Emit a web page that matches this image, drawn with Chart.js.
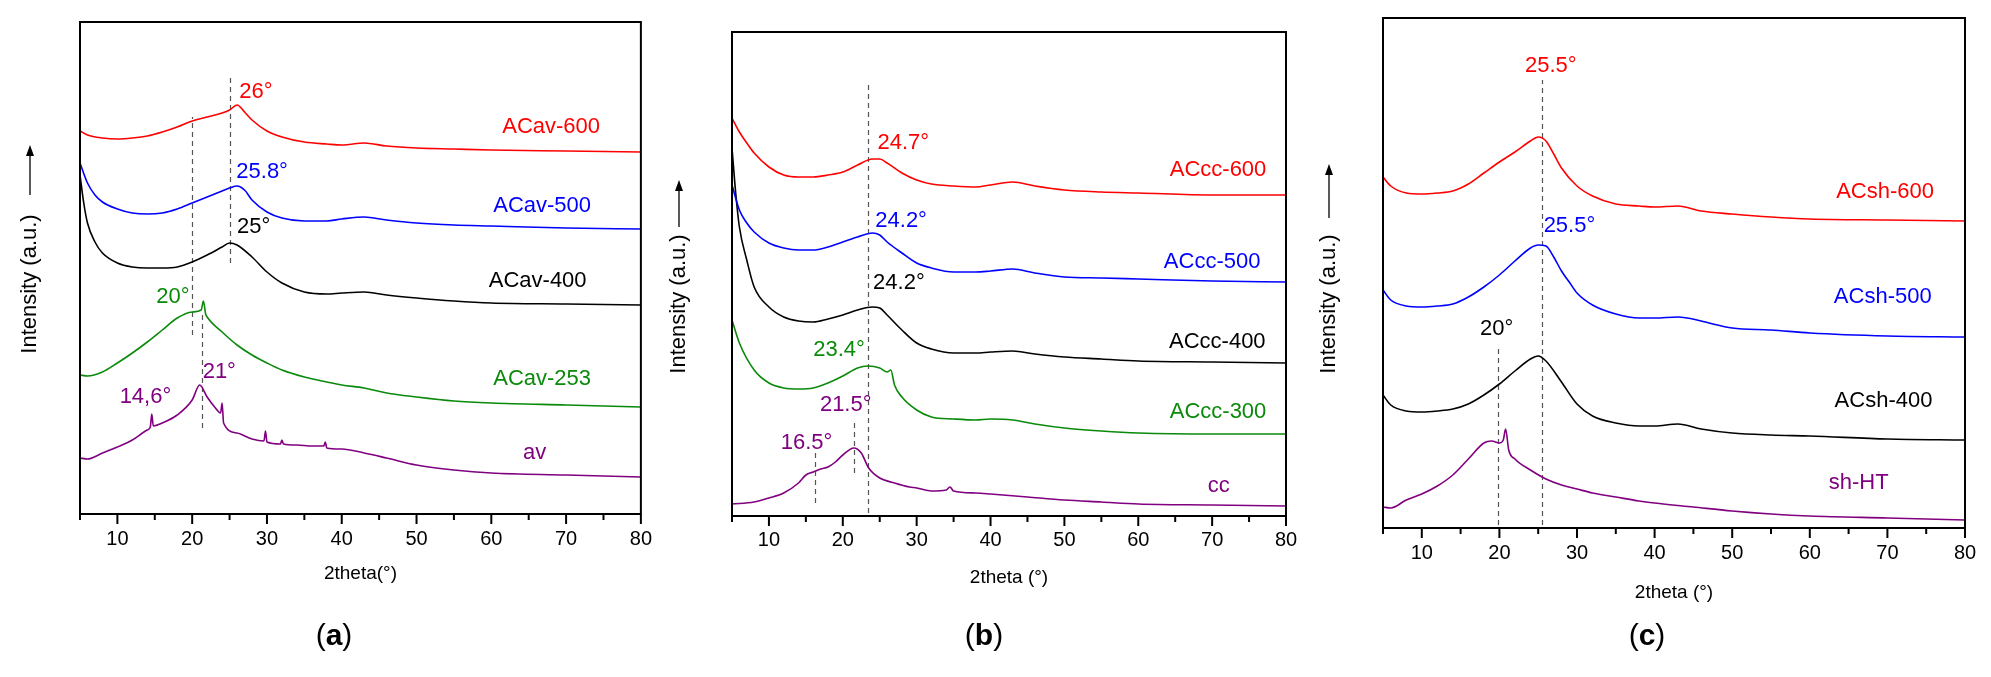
<!DOCTYPE html>
<html>
<head>
<meta charset="utf-8">
<script src="https://cdn.jsdelivr.net/npm/chart.js@4.4.0/dist/chart.umd.min.js"></script>
<style>
  html, body { margin: 0; padding: 0; background: #fff; width: 1991px; height: 677px; overflow: hidden; }
  canvas { position: absolute; top: 0; }
</style>
</head>
<body>
<canvas id="chartA" width="665" height="677" style="left:0px"></canvas>
<canvas id="chartB" width="645" height="677" style="left:665px"></canvas>
<canvas id="chartC" width="681" height="677" style="left:1310px"></canvas>
<script>
// ---- panel (a): av series ----
const degA = [5,6,8,10,12,14,16,18,20,22,24,25,26,27,28,30,32,35,38,40,43,46,50,55,60,70,80];
const acav600 = [383,379,376,375,376,378,382,387,393,397,401,404,409,402,394,383,377,372,370,369,371,368,366,365,364,363,362];
const acav500X = [5,6,7,8,10,12,14,16,18,20,22,24,25,26,27,28,30,32,35,38,40,43,46,50,55,60,70,80];
const acav500 = [351,331,319,312,305,301,300,301,305,311,317,323,326,328,324,314,302,296,293,293,295,297,294,291,289,288,286,285];
const acav400X = [5,5.5,6,7,8,10,12,14,16,18,20,22,24,25,26,28,30,32,35,38,40,43,46,50,55,60,70,80];
const acav400 = [339,311,291,272,261,251,247,246,246,247,252,259,267,271,269,257,242,231,222,220,221,222,219,216,213,211,210,209];
const acav253X = [5,6,8,10,12,14,16,18,20,21.2,21.5,21.8,22,24,26,28,30,32,35,38,40,43,46,50,55,60,70,80];
const acav253 = [139,138,142,151,161,172,184,196,202,204,213,200,197,182,169,159,151,144,137,132,129,126,121,117,113,111,109,107];
const avX = [5,6,8,10,12,14,14.4,14.6,14.8,16,18,20,21,22,23,23.8,24,24.2,26,28,29.6,29.8,30,31.8,32,32.2,34,36,37.6,37.8,38,40,43,46,50,55,60,70,80];
const av = [56,55,61,67,74,84,87,100,88,91,99,114,129,117,107,101,111,91,81,75,73,83,72,70,74,70,69,68,68,72,66,65,61,56,49,44,41,39,37];

// ---- panel (b): cc series ----
const degB = [5,6,7,8,10,12,14,16,18,20,22,24,25,26,28,30,32,35,38,40,43,46,50,55,60,70,80];
const accc600 = [398,384,373,363,349,341,339,339,341,344,351,357,357,353,343,336,332,330,329,331,334,330,326,324,323,321,321];
const accc500 = [331,306,293,284,273,268,266,266,269,274,279,283,281,274,263,253,248,244,244,245,247,243,239,238,237,235,234];
const accc400X = [5,5.5,6,7,8,10,12,14,16,18,20,22,24,25,26,28,30,32,35,38,40,43,46,50,55,60,70,80];
const accc400 = [368,323,289,256,229,209,199,195,194,197,201,206,209,208,201,186,173,167,163,163,164,165,162,159,157,155,154,153];
const accc300X = [5,6,8,10,12,14,16,18,20,22,23.4,25,26,26.5,27,28,30,32,35,38,40,43,46,50,55,60,70,80];
const accc300 = [196,173,146,133,128,127,128,133,140,148,150,148,144,146,131,119,106,99,97,96,97,96,92,88,85,83,82,82];
const ccX = [5,8,10,12,14,15,16,17,18,19,20,21.5,22.5,23.5,25,27,29,30,32,34,34.5,35,38,40,45,50,55,60,70,80];
const cc = [12,14,18,23,33,41,44,47,49,54,61,68,63,48,38,33,29,28,25,26,29,25,23,22,19,16,14,12,11,10];

// ---- panel (c): sh series ----
const degC = [5,6,8,10,12,14,16,18,20,22,24,25,26,27,28,30,32,35,38,40,43,46,50,55,60,70,80];
const acsh600 = [351,342,335,334,335,337,344,355,366,376,387,391,387,374,360,342,332,324,322,321,322,317,314,311,309,308,307];
const acsh500X = [5,6,8,10,12,14,16,18,20,22,24,25,26,27,28,29,30,32,35,38,40,43,46,47,50,55,60,70,80];
const acsh500 = [238,228,222,221,222,224,231,241,253,267,280,283,282,271,257,246,235,223,214,210,210,211,207,205,200,198,195,192,191];
const acsh400X = [5,6,8,10,12,14,16,18,20,22,24,25,26,28,30,32,35,38,40,43,46,50,55,60,70,80];
const acsh400 = [133,123,117,116,117,119,124,133,144,157,169,172,167,146,124,112,105,102,102,104,99,95,93,92,89,88];
const shhtX = [5,6,8,10,12,14,16,18,19,20,20.5,20.8,21.2,22,24,26,28,30,32,35,38,40,45,50,55,60,70,80];
const shht = [21,20,28,34,42,53,69,85,87,85,88,99,78,69,58,49,43,39,35,31,27,25,21,17,14,12,10,8];

const xTicks = [5,10,15,20,25,30,35,40,45,50,55,60,65,70,75,80];

const RED = '#ff0000', BLUE = '#0000ff', BLACK = '#000000', GREEN = '#0a8a0a', PURPLE = '#800080';
const FONT = "'Liberation Sans', Arial, sans-serif";

function series(xs, ys, color) {
  return {
    data: xs.map((v, i) => ({ x: v, y: ys[i] })),
    borderColor: color,
    borderWidth: 1.6,
    pointRadius: 0,
    cubicInterpolationMode: 'monotone',
    fill: false
  };
}

// frame, ticks, guides, labels
const decor = {
  id: 'decor',
  beforeDatasetsDraw(chart, args, o) {
    const { ctx, scales: { x, y } } = chart;
    ctx.save();
    ctx.setLineDash([5, 4]);
    ctx.strokeStyle = '#555';
    ctx.lineWidth = 1.2;
    o.guides.forEach(g => {
      const px = Math.round(x.getPixelForValue(g.at)) + 0.5;
      ctx.beginPath();
      ctx.moveTo(px, y.getPixelForValue(g.from));
      ctx.lineTo(px, y.getPixelForValue(g.to));
      ctx.stroke();
    });
    ctx.restore();
  },
  afterDraw(chart, args, o) {
    const { ctx, chartArea: a, scales: { x, y } } = chart;
    ctx.save();
    ctx.strokeStyle = '#000';
    ctx.lineWidth = 2;
    ctx.strokeRect(a.left, a.top, a.right - a.left, a.bottom - a.top);
    xTicks.forEach(v => {
      const px = x.getPixelForValue(v);
      const len = v % 10 === 0 ? 10 : 6;
      ctx.beginPath();
      ctx.moveTo(px, a.bottom);
      ctx.lineTo(px, a.bottom + len);
      ctx.stroke();
    });

    ctx.textBaseline = 'middle';
    o.notes.forEach(n => {
      ctx.font = '22px ' + FONT;
      ctx.fillStyle = n.c;
      ctx.textAlign = n.align || 'left';
      ctx.fillText(n.t, x.getPixelForValue(n.x), y.getPixelForValue(n.y));
    });

    // y title with arrow
    const t = o.ytitle;
    ctx.save();
    ctx.translate(t.x, t.y);
    ctx.rotate(-Math.PI / 2);
    ctx.font = '22px ' + FONT;
    ctx.fillStyle = '#000';
    ctx.textAlign = 'center';
    ctx.fillText('Intensity (a.u.)', 0, 0);
    ctx.restore();
    ctx.lineWidth = 1.3;
    ctx.beginPath();
    ctx.moveTo(t.x, t.arrowFrom);
    ctx.lineTo(t.x, t.arrowTo + 8);
    ctx.stroke();
    ctx.beginPath();
    ctx.moveTo(t.x, t.arrowTo);
    ctx.lineTo(t.x - 4, t.arrowTo + 11);
    ctx.lineTo(t.x + 4, t.arrowTo + 11);
    ctx.closePath();
    ctx.fillStyle = '#000';
    ctx.fill();

    // panel letter: (a) with bold letter
    const p = o.panel;
    ctx.textAlign = 'left';
    ctx.font = '30px ' + FONT;
    const w1 = ctx.measureText('(').width;
    ctx.font = 'bold 30px ' + FONT;
    const w2 = ctx.measureText(p.letter).width;
    ctx.font = '30px ' + FONT;
    const w3 = ctx.measureText(')').width;
    const sx = p.x - (w1 + w2 + w3) / 2;
    ctx.fillText('(', sx, p.y);
    ctx.font = 'bold 30px ' + FONT;
    ctx.fillText(p.letter, sx + w1, p.y);
    ctx.font = '30px ' + FONT;
    ctx.fillText(')', sx + w1 + w2, p.y);
    ctx.restore();
  }
};

function makeChart(id, datasets, cfg) {
  return new Chart(document.getElementById(id), {
    type: 'line',
    data: { datasets },
    plugins: [decor],
    options: {
      responsive: false,
      animation: false,
      layout: { padding: { left: cfg.padL, right: cfg.padR, top: cfg.top, bottom: 0 } },
      plugins: {
        legend: { display: false },
        tooltip: { enabled: false },
        decor: { guides: cfg.guides, notes: cfg.notes, ytitle: cfg.ytitle, panel: cfg.panel }
      },
      scales: {
        x: {
          type: 'linear', min: 5, max: 80,
          afterBuildTicks: s => { s.ticks = xTicks.map(v => ({ value: v })); },
          afterFit: s => { s.height = 677 - cfg.bottom; },
          grid: { display: false, drawTicks: false, tickLength: 0 },
          border: { display: false },
          ticks: {
            autoSkip: false, maxRotation: 0, padding: cfg.tickPad,
            color: '#000', font: { family: FONT, size: 20 },
            callback: v => (v % 10 === 0 ? String(v) : '')
          },
          title: {
            display: true, text: cfg.xtitle, color: '#000',
            font: { family: FONT, size: 19 },
            padding: { top: 0, bottom: cfg.titlePad }
          }
        },
        y: { type: 'linear', display: false, min: 0, max: cfg.bottom - cfg.top }
      }
    }
  });
}

makeChart('chartA', [
  series(degA, acav600, RED),
  series(acav500X, acav500, BLUE),
  series(acav400X, acav400, BLACK),
  series(acav253X, acav253, GREEN),
  series(avX, av, PURPLE)
], {
  padL: 80, padR: 21, top: 22, bottom: 514, tickPad: 13, titlePad: 92, xtitle: '2theta(°)',
  guides: [{ at: 20, from: 179, to: 397 }, { at: 25, from: 251, to: 437 }, { at: 21.3, from: 86, to: 201 }],
  notes: [
    { t: '26°', x: 26.3, y: 422, c: RED },
    { t: '25.8°', x: 25.9, y: 342, c: BLUE },
    { t: '25°', x: 26.0, y: 287, c: BLACK },
    { t: '20°', x: 15.2, y: 217, c: GREEN },
    { t: '21°', x: 21.4, y: 142, c: PURPLE },
    { t: '14,6°', x: 10.3, y: 117, c: PURPLE },
    { t: 'ACav-600', x: 68.0, y: 387, c: RED, align: 'center' },
    { t: 'ACav-500', x: 66.8, y: 308, c: BLUE, align: 'center' },
    { t: 'ACav-400', x: 66.2, y: 233, c: BLACK, align: 'center' },
    { t: 'ACav-253', x: 66.8, y: 135, c: GREEN, align: 'center' },
    { t: 'av', x: 65.8, y: 61, c: PURPLE, align: 'center' }
  ],
  ytitle: { x: 30, y: 284, arrowFrom: 195, arrowTo: 145 },
  panel: { letter: 'a', x: 334, y: 637 }
});

makeChart('chartB', [
  series(degB, accc600, RED),
  series(degB, accc500, BLUE),
  series(accc400X, accc400, BLACK),
  series(accc300X, accc300, GREEN),
  series(ccX, cc, PURPLE)
], {
  padL: 67, padR: 24, top: 32, bottom: 516, tickPad: 12, titlePad: 88, xtitle: '2theta (°)',
  guides: [{ at: 23.4, from: 3, to: 435 }, { at: 21.5, from: 43, to: 93 }, { at: 16.3, from: 13, to: 63 }],
  notes: [
    { t: '24.7°', x: 24.7, y: 373, c: RED },
    { t: '24.2°', x: 24.4, y: 295, c: BLUE },
    { t: '24.2°', x: 24.1, y: 233, c: BLACK },
    { t: '23.4°', x: 16.0, y: 166, c: GREEN },
    { t: '21.5°', x: 16.9, y: 111, c: PURPLE },
    { t: '16.5°', x: 11.6, y: 73, c: PURPLE },
    { t: 'ACcc-600', x: 70.8, y: 346, c: RED, align: 'center' },
    { t: 'ACcc-500', x: 70.0, y: 254, c: BLUE, align: 'center' },
    { t: 'ACcc-400', x: 70.7, y: 174, c: BLACK, align: 'center' },
    { t: 'ACcc-300', x: 70.8, y: 104, c: GREEN, align: 'center' },
    { t: 'cc', x: 70.9, y: 30, c: PURPLE, align: 'center' }
  ],
  ytitle: { x: 14, y: 304, arrowFrom: 227, arrowTo: 180 },
  panel: { letter: 'b', x: 984 - 665, y: 637 }
});

makeChart('chartC', [
  series(degC, acsh600, RED),
  series(acsh500X, acsh500, BLUE),
  series(acsh400X, acsh400, BLACK),
  series(shhtX, shht, PURPLE)
], {
  padL: 73, padR: 26, top: 18, bottom: 528, tickPad: 13, titlePad: 73, xtitle: '2theta (°)',
  guides: [{ at: 25.5, from: 3, to: 448 }, { at: 19.8, from: 3, to: 182 }],
  notes: [
    { t: '25.5°', x: 23.3, y: 462, c: RED },
    { t: '25.5°', x: 25.7, y: 302, c: BLUE },
    { t: '20°', x: 17.5, y: 199, c: BLACK },
    { t: 'ACsh-600', x: 69.7, y: 336, c: RED, align: 'center' },
    { t: 'ACsh-500', x: 69.4, y: 231, c: BLUE, align: 'center' },
    { t: 'ACsh-400', x: 69.5, y: 127, c: BLACK, align: 'center' },
    { t: 'sh-HT', x: 66.3, y: 45, c: PURPLE, align: 'center' }
  ],
  ytitle: { x: 19, y: 304, arrowFrom: 218, arrowTo: 164 },
  panel: { letter: 'c', x: 1647 - 1310, y: 637 }
});
</script>
</body>
</html>
